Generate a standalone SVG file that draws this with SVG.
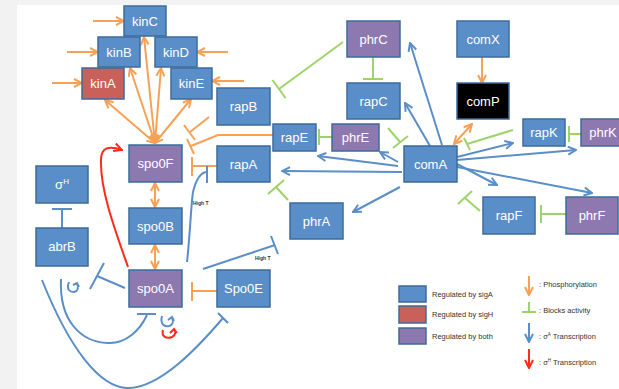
<svg xmlns="http://www.w3.org/2000/svg" width="619" height="389" viewBox="0 0 619 389">
<style>
.n rect{stroke:#3d6b9c;stroke-width:1.5}
.b{fill:#5a8ec8}.r{fill:#c9605a}.p{fill:#8e78b0}.k{fill:#000}
.n text{font-family:"Liberation Sans",Arial,sans-serif;font-size:13px;fill:#fff;text-anchor:middle}
.o{stroke:#f7a156;stroke-width:2;fill:none}
.g{stroke:#9ed36a;stroke-width:2;fill:none}
.u{stroke:#5a8ec8;stroke-width:2;fill:none}
.x{stroke:#ff2a1a;stroke-width:2;fill:none}
.oa{marker-end:url(#ao)}
.od{marker-end:url(#ao);marker-start:url(#ao)}
.ua{marker-end:url(#au)}
.lt{font-family:"Liberation Sans",Arial,sans-serif;font-size:7.5px;fill:#333}
.ht{font-family:"Liberation Sans",Arial,sans-serif;font-size:5px;fill:#333;font-weight:bold}
</style>
<defs>
<marker id="ao" viewBox="0 0 10 10" refX="9" refY="5" markerWidth="10" markerHeight="10" markerUnits="userSpaceOnUse" orient="auto-start-reverse"><path d="M1,1 L9,5 L1,9" fill="none" stroke="#f7a156" stroke-width="2"/></marker>
<marker id="au" viewBox="0 0 10 10" refX="9" refY="5" markerWidth="10" markerHeight="10" markerUnits="userSpaceOnUse" orient="auto-start-reverse"><path d="M1,1 L9,5 L1,9" fill="none" stroke="#5a8ec8" stroke-width="2"/></marker>
<marker id="ax" viewBox="0 0 10 10" refX="9" refY="5" markerWidth="10" markerHeight="10" markerUnits="userSpaceOnUse" orient="auto-start-reverse"><path d="M1,1 L9,5 L1,9" fill="none" stroke="#ff2a1a" stroke-width="2"/></marker>
</defs>
<rect x="0" y="0" width="619" height="389" fill="#f2f2f2"/>
<rect x="17" y="5" width="602" height="384" fill="#fff"/>

<g id="connectors">
<path class="o oa" d="M93,21 L124,21"/>
<path class="o oa" d="M67,52 L98,52"/>
<path class="o oa" d="M228,52 L197,52"/>
<path class="o oa" d="M52,83 L82,83"/>
<path class="o oa" d="M244,81 L212,81"/>
<path class="o od" d="M155,143 L105,100"/>
<path class="o od" d="M155,143 L130,68"/>
<path class="o od" d="M155,143 L144,37"/>
<path class="o od" d="M155,143 L161,68"/>
<path class="o od" d="M155,143 L191,99"/>
<path class="o" d="M209,117 L190,132 M184,125 L195,140"/>
<path class="o" d="M273,135 L218,135 L191,146 M187,139 L194,154"/>
<path class="o" d="M217,166 L192,166 M192,157 L192,176"/>
<path class="o od" d="M155,183 L155,207"/>
<path class="o od" d="M155,245 L155,269"/>
<path class="o" d="M217,291 L192,291 M192,282 L192,301"/>
<path class="o oa" d="M482,57 L482,83"/>
<path class="o od" d="M454,144 L472,124"/>
<path class="g" d="M343,42 L279,89 M272.5,80 L285.5,98"/>
<path class="g" d="M373,57 L373,79 M363,79 L383,79"/>
<path class="g" d="M388,128 L400,142 M393,148 L408,136"/>
<path class="g" d="M332,137 L319,137 M319,129 L319,145"/>
<path class="g" d="M513,130 L467,144 M464,138 L470,150"/>
<path class="g" d="M581,134 L569,134 M569,126 L569,142"/>
<path class="g" d="M480,211 L465,198 M458,204 L472,191"/>
<path class="g" d="M566,214 L541,214 M541,205 L541,223"/>
<path class="g" d="M288,200 L276,187 M268,194 L284,180"/>
<path class="u ua" d="M442,145 L410,43"/>
<path class="u ua" d="M430,146 L405,103"/>
<path class="u ua" d="M398,162 L380,152"/>
<path class="u ua" d="M398,166 L318,156"/>
<path class="u ua" d="M402,172 L282,171"/>
<path class="u ua" d="M400,187 L353,212"/>
<path class="u ua" d="M457,157 L513,143"/>
<path class="u ua" d="M457,160 L576,150"/>
<path class="u ua" d="M457,164 L497,185"/>
<path class="u ua" d="M457,167 L592,193"/>
<path class="u" d="M187,262 C190,235 191,205 193,192 C196,180 200,172 207,172 M207,166 L207,183"/>
<path class="u" d="M203,269 L275,245 M271,236 L278,254"/>
<path class="u" d="M125,288 L97,276 M90,289 L104,263"/>
<path class="u" d="M62,228 L62,209 M52,209 L72,209"/>
<path class="u" d="M61,279 C59,320 80,342 108,343 C126,344 140,330 147,315 M137,314 L156,314"/>
<path class="u" d="M42,280 C70,350 100,387 127,388 C160,389 200,345 223,318 M218,313 L228,323"/>
<path class="u" d="M69,282 C66,290 70,292 74,292 C78,291 79,287 77,284 M73,285 L77,283 L79,287"/>
<path class="u" d="M162,316 C160,324 164,327 169,326 C173,325 174,321 172,318 M168,320 L172,317 L174,321"/>
<path class="x" d="M163,330 C161,337 167,339 172,337 C176,335 176,331 174,329 M170,333 L174,329 L177,333"/>
<path class="x" d="M128,267 C115,230 100,190 101,160 C101,148 108,145 122,150" marker-end="url(#ax)"/>
</g>

<text class="ht" x="193" y="205">High T</text>
<text class="ht" x="255" y="260">High T</text>

<g id="kinC" class="n"><rect class="b" x="124" y="6" width="42" height="30"/><text x="145" y="26">kinC</text></g>
<g id="kinB" class="n"><rect class="b" x="98" y="37" width="42" height="30"/><text x="119" y="57">kinB</text></g>
<g id="kinD" class="n"><rect class="b" x="155" y="37" width="42" height="30"/><text x="176" y="57">kinD</text></g>
<g id="kinA" class="n"><rect class="r" x="82" y="68" width="42" height="31"/><text x="103" y="88">kinA</text></g>
<g id="kinE" class="n"><rect class="b" x="171" y="68" width="41" height="31"/><text x="191.5" y="88">kinE</text></g>
<g id="rapB" class="n"><rect class="b" x="217" y="88" width="53" height="37"/><text x="243.5" y="111">rapB</text></g>
<g id="rapE" class="n"><rect class="b" x="273" y="124" width="43" height="27"/><text x="294.5" y="142">rapE</text></g>
<g id="phrE" class="n"><rect class="p" x="332" y="124" width="47" height="27"/><text x="355.5" y="142">phrE</text></g>
<g id="rapA" class="n"><rect class="b" x="217" y="146" width="53" height="36"/><text x="243.5" y="169">rapA</text></g>
<g id="spo0F" class="n"><rect class="p" x="129" y="145" width="53" height="37"/><text x="155.5" y="168">spo0F</text></g>
<g id="sigH" class="n"><rect class="b" x="36" y="166" width="52" height="37"/><text x="62" y="189">σ<tspan font-size="8" dy="-5">H</tspan></text></g>
<g id="abrB" class="n"><rect class="b" x="36" y="228" width="52" height="38"/><text x="62" y="251">abrB</text></g>
<g id="spo0B" class="n"><rect class="b" x="129" y="208" width="53" height="36"/><text x="155.5" y="231">spo0B</text></g>
<g id="spo0A" class="n"><rect class="p" x="129" y="270" width="53" height="37"/><text x="155.5" y="293">spo0A</text></g>
<g id="Spo0E" class="n"><rect class="b" x="217" y="270" width="53" height="37"/><text x="243.5" y="293">Spo0E</text></g>
<g id="phrA" class="n"><rect class="b" x="290" y="203" width="53" height="36"/><text x="316.5" y="226">phrA</text></g>
<g id="phrC" class="n"><rect class="p" x="347" y="21" width="53" height="36"/><text x="373.5" y="44">phrC</text></g>
<g id="comX" class="n"><rect class="b" x="457" y="21" width="52" height="36"/><text x="483" y="44">comX</text></g>
<g id="rapC" class="n"><rect class="b" x="347" y="83" width="53" height="36"/><text x="373.5" y="106">rapC</text></g>
<g id="comP" class="n"><rect class="k" x="457" y="83" width="52" height="36"/><text x="483" y="106">comP</text></g>
<g id="comA" class="n"><rect class="b" x="404" y="146" width="53" height="36"/><text x="430.5" y="169">comA</text></g>
<g id="rapK" class="n"><rect class="b" x="523" y="119" width="42" height="27"/><text x="544" y="137">rapK</text></g>
<g id="phrK" class="n"><rect class="p" x="581" y="119" width="44" height="27"/><text x="603" y="137">phrK</text></g>
<g id="rapF" class="n"><rect class="b" x="483" y="197" width="52" height="37"/><text x="509" y="220">rapF</text></g>
<g id="phrF" class="n"><rect class="p" x="566" y="197" width="52" height="37"/><text x="592" y="220">phrF</text></g>

<g id="legend">
<rect class="b" x="399" y="286" width="27" height="16" stroke="#3d6b9c" stroke-width="1.5"/>
<rect class="r" x="399" y="306" width="27" height="17" stroke="#3d6b9c" stroke-width="1.5"/>
<rect class="p" x="399" y="328" width="27" height="16" stroke="#3d6b9c" stroke-width="1.5"/>
<text class="lt" x="432" y="296.5">Regulated by sigA</text>
<text class="lt" x="432" y="316.5">Regulated by sigH</text>
<text class="lt" x="432" y="338.5">Regulated by both</text>
<path class="o oa" d="M529,276 L529,295"/>
<path class="g" d="M529,302 L529,312 M522,312 L536,312"/>
<path class="u ua" d="M529,323 L529,342"/>
<path class="x" d="M529,349 L529,368" marker-end="url(#ax)"/>
<text class="lt" x="539" y="286.5">:   Phosphorylation</text>
<text class="lt" x="539" y="312.5">:  Blocks activity</text>
<text class="lt" x="539" y="338.5">: σ<tspan font-size="4.5" dy="-2.5">A</tspan><tspan dy="2.5"> Transcription</tspan></text>
<text class="lt" x="539" y="364.5">: σ<tspan font-size="4.5" dy="-2.5">H</tspan><tspan dy="2.5"> Transcription</tspan></text>
</g>
</svg>
